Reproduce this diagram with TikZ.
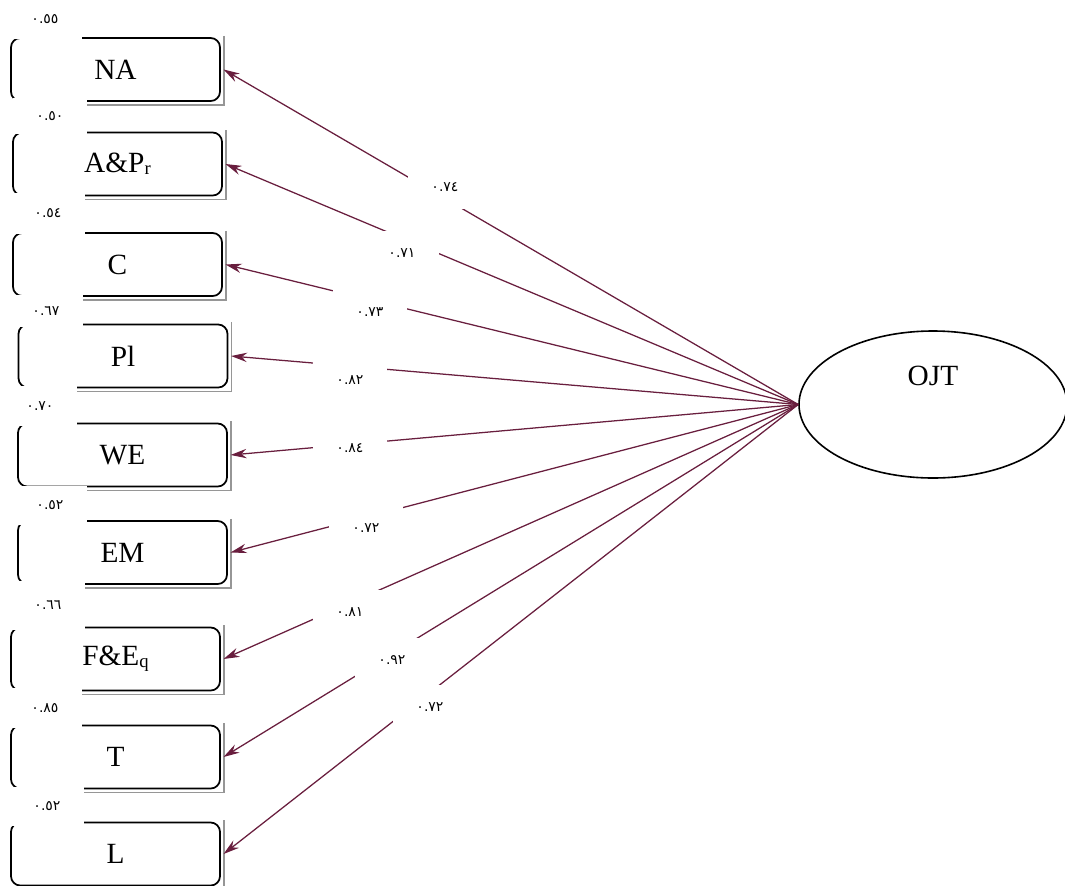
\documentclass[tikz,border=0pt]{standalone}
\usepackage{fontspec}
\setmainfont{Liberation Serif}
\newfontfamily\arabicfont[Script=Arabic]{DejaVu Sans}
\usetikzlibrary{arrows.meta,shapes.geometric}
\definecolor{arrowcol}{RGB}{105,30,62}
\definecolor{shadowcol}{RGB}{150,150,150}
\newcommand{\sbs}[1]{\raisebox{-1.5pt}{\fontsize{14}{15}\selectfont #1}}
\begin{document}
\begin{tikzpicture}[x=0.75pt,y=-0.75pt,
  obsbox/.style={draw, line width=1.3pt, rounded corners=7pt, fill=white,
    minimum width=156.75pt, minimum height=47.25pt, inner sep=0pt,
    font=\fontsize{22}{26}\selectfont},
  boxshadow/.style={draw=shadowcol, line width=1.2pt},
  arr/.style={draw=arrowcol, line width=0.95pt, -{Stealth[length=12pt,width=7pt]}},
  elab/.style={fill=white, inner sep=0pt, minimum width=55.5pt, minimum height=33pt,
    font=\arabicfont\fontsize{10.5}{12}\selectfont},
  vlab/.style={fill=white, inner sep=0pt, minimum width=55pt,
    font=\arabicfont\fontsize{10.5}{12}\selectfont},
  latent/.style={draw, ellipse, line width=1.2pt, minimum width=201pt,
    minimum height=110.25pt, inner sep=0pt},
  bigtext/.style={font=\fontsize{22}{26}\selectfont, inner sep=0pt}
]
\useasboundingbox (0,0) rectangle (1065,886);

% observed boxes
\node[obsbox] (na) at (115.5,69.5) {NA};
\node[obsbox] (ap) at (117.5,164) {A\&P\sbs{r}};
\node[obsbox] (c)  at (117.5,264.5) {C};
\node[obsbox] (pl) at (123,356) {Pl};
\node[obsbox] (we) at (122.5,455) {WE};
\node[obsbox] (em) at (122.5,552.5) {EM};
\node[obsbox] (fe) at (115.5,659) {F\&E\sbs{q}};
\node[obsbox] (t)  at (115.5,757) {T};
\node[obsbox] (l)  at (115.5,854) {L};

\foreach \n in {na,ap,c,pl,we,em,fe,t,l}{
  \draw[boxshadow] ([xshift=2.3pt,yshift=1pt]\n.north east)
    -- ([xshift=2.3pt,yshift=-2.2pt]\n.south east)
    -- ([xshift=4pt,yshift=-2.2pt]\n.south west);
}

% latent variable
\node[latent] (ojt) at (933,404.5) {};
\node[bigtext] (ojtname) at (933,376) {OJT};

% connectors
\draw[arr] (ojt.west) -- ([xshift=2pt]na.east);
\draw[arr] (ojt.west) -- ([xshift=2pt]ap.east);
\draw[arr] (ojt.west) -- ([xshift=2pt]c.east);
\draw[arr] (ojt.west) -- ([xshift=2pt]pl.east);
\draw[arr] (ojt.west) -- ([xshift=2pt]we.east);
\draw[arr] (ojt.west) -- ([xshift=2pt]em.east);
\draw[arr] (ojt.west) -- ([xshift=2pt]fe.east);
\draw[arr] (ojt.west) -- ([xshift=2pt]t.east);
\draw[arr] (ojt.west) -- ([xshift=2pt]l.east);

% loading labels
\node[elab] (e1) at (445,187) {٠.٧٤};
\node[elab] (e2) at (402,253) {٠.٧١};
\node[elab] (e3) at (370,312) {٠.٧٣};
\node[elab] (e4) at (350,380) {٠.٨٢};
\node[elab] (e5) at (350,448) {٠.٨٤};
\node[elab] (e6) at (366,528) {٠.٧٢};
\node[elab] (e7) at (350,612) {٠.٨١};
\node[elab] (e8) at (392,660) {٠.٩٢};
\node[elab] (e9) at (430,707) {٠.٧٢};

% error variance labels
\node[vlab, minimum height=30pt]    (v1) at (45,19)    {٠.٥٥};
\node[vlab, minimum height=27pt]    (v2) at (50,116)   {٠.٥٠};
\node[vlab, minimum height=30.75pt] (v3) at (48,213.5) {٠.٥٤};
\node[vlab, minimum height=24pt]    (v4) at (46,311)   {٠.٦٧};
\node[vlab, minimum height=30pt]    (v5) at (40,406)   {٠.٧٠};
\node[vlab, minimum height=29.25pt] (v6) at (50,505)   {٠.٥٢};
\node[vlab, minimum height=36.75pt] (v7) at (48,605)   {٠.٦٦};
\node[vlab, minimum height=30pt]    (v8) at (45,708)   {٠.٨٥};
\node[vlab, minimum height=29.25pt] (v9) at (47,806)   {٠.٥٢};
\end{tikzpicture}
\end{document}
